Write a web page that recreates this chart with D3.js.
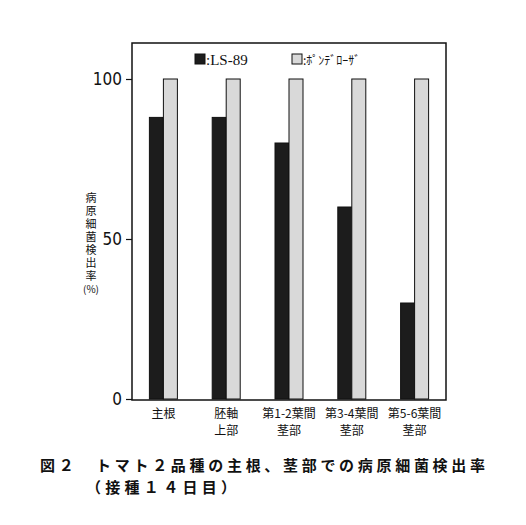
<!DOCTYPE html>
<html>
<head>
<meta charset="utf-8">
<script src="https://cdn.jsdelivr.net/npm/d3@7"></script>
<style>
  body { margin: 0; background: #fff; }
  text { fill: #111; }
</style>
</head>
<body>
<div id="chart"></div>
<script>
// data
const categories = ["主根", "胚軸\n上部", "第1-2葉間\n茎部", "第3-4葉間\n茎部", "第5-6葉間\n茎部"];
const seriesNames = ["LS-89", "ﾎﾟﾝﾃﾞﾛｰｻﾞ"];
const ls89 = [88, 88, 80, 60, 30];
const ponderosa = [100, 100, 100, 100, 100];
const yTicks = [0, 50, 100];
const yTitle = "病原細菌検出率";
const yUnit = "(%)";

const W = 526, H = 525;
const frame = {left: 132, right: 446, top: 43, bottom: 400};
const jp = "'Noto Sans CJK JP', sans-serif";

const svg = d3.select("#chart").append("svg")
    .attr("width", W)
    .attr("height", H);

// scales
const x = d3.scaleBand()
    .domain(categories)
    .range([frame.left, frame.right])
    .padding(0);
const barW = 14;
const xs = d3.scaleBand()
    .domain(seriesNames)
    .range([x.bandwidth() / 2 - barW, x.bandwidth() / 2 + barW]);
const y = d3.scaleLinear()
    .domain([0, 100])
    .range([399, 79]);

const rows = categories.map((c, i) => ({cat: c, values: [ls89[i], ponderosa[i]]}));
const fills = ["#1c1c1c", "#d9d9d9"];

// frame
svg.append("rect")
    .attr("x", frame.left)
    .attr("y", frame.top)
    .attr("width", frame.right - frame.left)
    .attr("height", frame.bottom - frame.top)
    .attr("fill", "none")
    .attr("stroke", "#111")
    .attr("stroke-width", 1.5);

// bars
const groups = svg.selectAll(".grp")
    .data(rows)
    .enter().append("g")
    .attr("class", "grp")
    .attr("transform", d => `translate(${x(d.cat)},0)`);

groups.selectAll("rect")
    .data(d => d.values.map((v, j) => ({name: seriesNames[j], v: v, j: j})))
    .enter().append("rect")
    .attr("x", d => xs(d.name))
    .attr("y", d => y(d.v))
    .attr("width", xs.bandwidth())
    .attr("height", d => y(0) - y(d.v))
    .attr("fill", d => fills[d.j])
    .attr("stroke", "#111")
    .attr("stroke-width", 1);

// y axis
const yAxis = d3.axisLeft(y)
    .tickValues(yTicks)
    .tickSize(6)
    .tickPadding(4)
    .tickFormat(d3.format("d"));
const ya = svg.append("g")
    .attr("transform", `translate(${frame.left},0)`)
    .call(yAxis);
ya.select(".domain").remove();
ya.selectAll("line").attr("stroke", "#111").attr("stroke-width", 1.2);
ya.selectAll("text")
    .attr("font-family", "'Liberation Sans Narrow', 'DejaVu Sans Condensed', sans-serif")
    .attr("font-size", 17)
    .attr("fill", "#111");

// y label, written top to bottom
svg.append("text")
    .attr("x", 91)
    .attr("y", 192)
    .attr("font-family", jp)
    .attr("font-size", 11)
    .attr("letter-spacing", 2)
    .style("writing-mode", "vertical-rl")
    .text(yTitle);
svg.append("text")
    .attr("x", 91)
    .attr("y", 293)
    .attr("text-anchor", "middle")
    .attr("font-family", jp)
    .attr("font-size", 10)
    .text(yUnit);

// category labels
const cl = svg.append("g");
categories.forEach(c => {
    c.split("\n").forEach((line, k) => {
        cl.append("text")
            .attr("x", x(c) + x.bandwidth() / 2)
            .attr("y", 418 + k * 17)
            .attr("text-anchor", "middle")
            .attr("font-family", jp)
            .attr("font-size", 12)
            .text(line);
    });
});

// legend
const leg = svg.append("g");
const legX = [195, 292];
seriesNames.forEach((s, i) => {
    leg.append("rect")
        .attr("x", legX[i])
        .attr("y", 54)
        .attr("width", 10)
        .attr("height", 10)
        .attr("fill", fills[i])
        .attr("stroke", "#111");
    leg.append("text")
        .attr("x", legX[i] + 11)
        .attr("y", 65)
        .attr("font-family", i === 0 ? "'Liberation Serif', serif" : jp)
        .attr("font-size", i === 0 ? 15 : 12)
        .text(":" + s);
});

// caption
svg.append("text")
    .attr("x", 40)
    .attr("y", 471)
    .attr("font-family", jp)
    .attr("font-weight", "bold")
    .attr("font-size", 15)
    .attr("textLength", 445)
    .attr("lengthAdjust", "spacing")
    .text("図２　トマト２品種の主根、茎部での病原細菌検出率");
svg.append("text")
    .attr("x", 86)
    .attr("y", 493)
    .attr("font-family", jp)
    .attr("font-weight", "bold")
    .attr("font-size", 15)
    .attr("textLength", 150)
    .attr("lengthAdjust", "spacing")
    .text("（接種１４日目）");
</script>
</body>
</html>
